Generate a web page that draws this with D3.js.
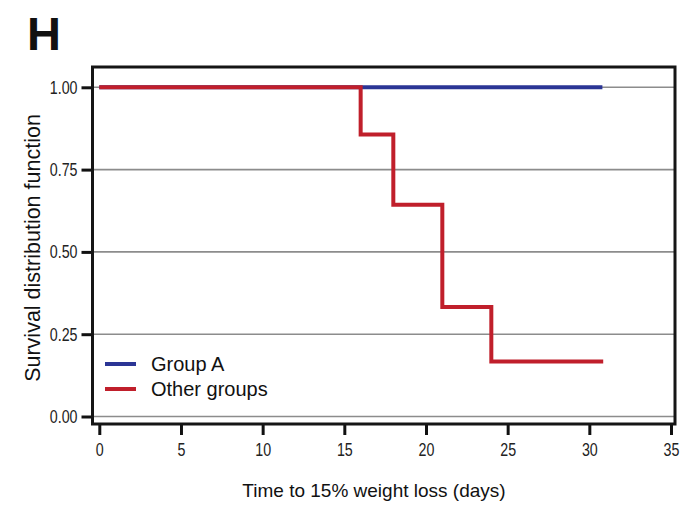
<!DOCTYPE html>
<html>
<head>
<meta charset="utf-8">
<script src="https://cdn.jsdelivr.net/npm/d3@7"></script>
<style>
  html, body { margin: 0; padding: 0; background: #fff; }
  svg { display: block; }
</style>
</head>
<body>
<svg width="686" height="508"></svg>
<script>
// input data
// Kaplan-Meier steps: time (days) and survival after that time
const groupATimes = [0, 30.8];
const groupASurvival = [1, 1];
const otherTimes = [0, 16, 18, 21, 24, 30.85];
const otherSurvival = [1, 0.857, 0.643, 0.333, 0.167, 0.167];
const xTicks = [0, 5, 10, 15, 20, 25, 30, 35];
const yTicks = [0, 0.25, 0.5, 0.75, 1];
const seriesNames = ['Group A', 'Other groups'];
const seriesColors = ['#2b3595', '#c01f2b'];

const svg = d3.select('svg');

// plot box in pixels
const box = { left: 92.5, top: 67, right: 675, bottom: 424 };

const x = d3.scaleLinear().domain([0, 35]).range([99.3, 671]);
const y = d3.scaleLinear().domain([0, 1]).range([416.5, 87.3]);

const sans = '"Liberation Sans", Arial, Helvetica, sans-serif';
// tick labels are a narrow face: squeeze regular sans horizontally
const squeeze = 0.77;

// panel letter
svg.append('text')
  .attr('x', 27)
  .attr('y', 50)
  .attr('font-family', sans)
  .attr('font-weight', 'bold')
  .attr('font-size', 47)
  .attr('fill', '#111')
  .text('H');

// gridlines
svg.append('g')
  .selectAll('line')
  .data(yTicks)
  .join('line')
  .attr('x1', box.left)
  .attr('x2', box.right)
  .attr('y1', d => y(d))
  .attr('y2', d => y(d))
  .attr('stroke', '#8c8c8c')
  .attr('stroke-width', 1.6);

// y axis ticks & labels
const yAxis = d3.axisLeft(y)
  .tickValues(yTicks)
  .tickFormat(d3.format('.2f'))
  .tickSize(11)
  .tickPadding(4);

svg.append('g')
  .attr('transform', `translate(${box.left},0)`)
  .call(yAxis)
  .call(g => g.select('.domain').remove())
  .call(g => g.selectAll('.tick line').attr('stroke', '#111').attr('stroke-width', 3))
  .call(g => g.selectAll('.tick text')
    .attr('x', -15 / squeeze)
    .attr('transform', `scale(${squeeze},1)`)
    .attr('font-family', sans)
    .attr('font-size', 18.5)
    .attr('fill', '#222'));

// x axis ticks & labels
const xAxis = d3.axisBottom(x)
  .tickValues(xTicks)
  .tickSize(11)
  .tickPadding(7.5);

svg.append('g')
  .attr('transform', `translate(0,${box.bottom})`)
  .call(xAxis)
  .call(g => g.select('.domain').remove())
  .call(g => g.selectAll('.tick line').attr('stroke', '#111').attr('stroke-width', 3))
  .call(g => g.selectAll('.tick text')
    .attr('transform', `scale(${squeeze},1)`)
    .attr('font-family', sans)
    .attr('font-size', 18.5)
    .attr('fill', '#222'));

// step lines
const line = d3.line()
  .curve(d3.curveStepAfter)
  .x(d => x(d[0]))
  .y(d => y(d[1]));

const series = [
  d3.zip(groupATimes, groupASurvival),
  d3.zip(otherTimes, otherSurvival),
];

svg.append('g')
  .selectAll('path')
  .data(series)
  .join('path')
  .attr('d', line)
  .attr('fill', 'none')
  .attr('stroke', (d, i) => seriesColors[i])
  .attr('stroke-width', 4)
  .attr('stroke-linejoin', 'miter')
  .attr('stroke-linecap', 'butt');

// plot frame
svg.append('rect')
  .attr('x', box.left)
  .attr('y', box.top)
  .attr('width', box.right - box.left)
  .attr('height', box.bottom - box.top)
  .attr('fill', 'none')
  .attr('stroke', '#151515')
  .attr('stroke-width', 3);

// legend
const legend = svg.append('g')
  .selectAll('g')
  .data(seriesNames)
  .join('g')
  .attr('transform', (d, i) => `translate(105 ${364 + i * 25})`);

legend.append('line')
  .attr('x1', 0)
  .attr('x2', 31)
  .attr('stroke', (d, i) => seriesColors[i])
  .attr('stroke-width', 4);

legend.append('text')
  .attr('x', 46)
  .attr('y', 7)
  .attr('font-family', sans)
  .attr('font-size', 20)
  .attr('fill', '#111')
  .text(d => d);

// axis titles
svg.append('text')
  .attr('x', 374)
  .attr('y', 497)
  .attr('text-anchor', 'middle')
  .attr('font-family', sans)
  .attr('font-size', 19)
  .attr('fill', '#111')
  .text('Time to 15% weight loss (days)');

svg.append('text')
  .attr('transform', `translate(40 248) rotate(-90)`)
  .attr('text-anchor', 'middle')
  .attr('font-family', sans)
  .attr('font-size', 21.5)
  .attr('fill', '#111')
  .text('Survival distribution function');
</script>
</body>
</html>
